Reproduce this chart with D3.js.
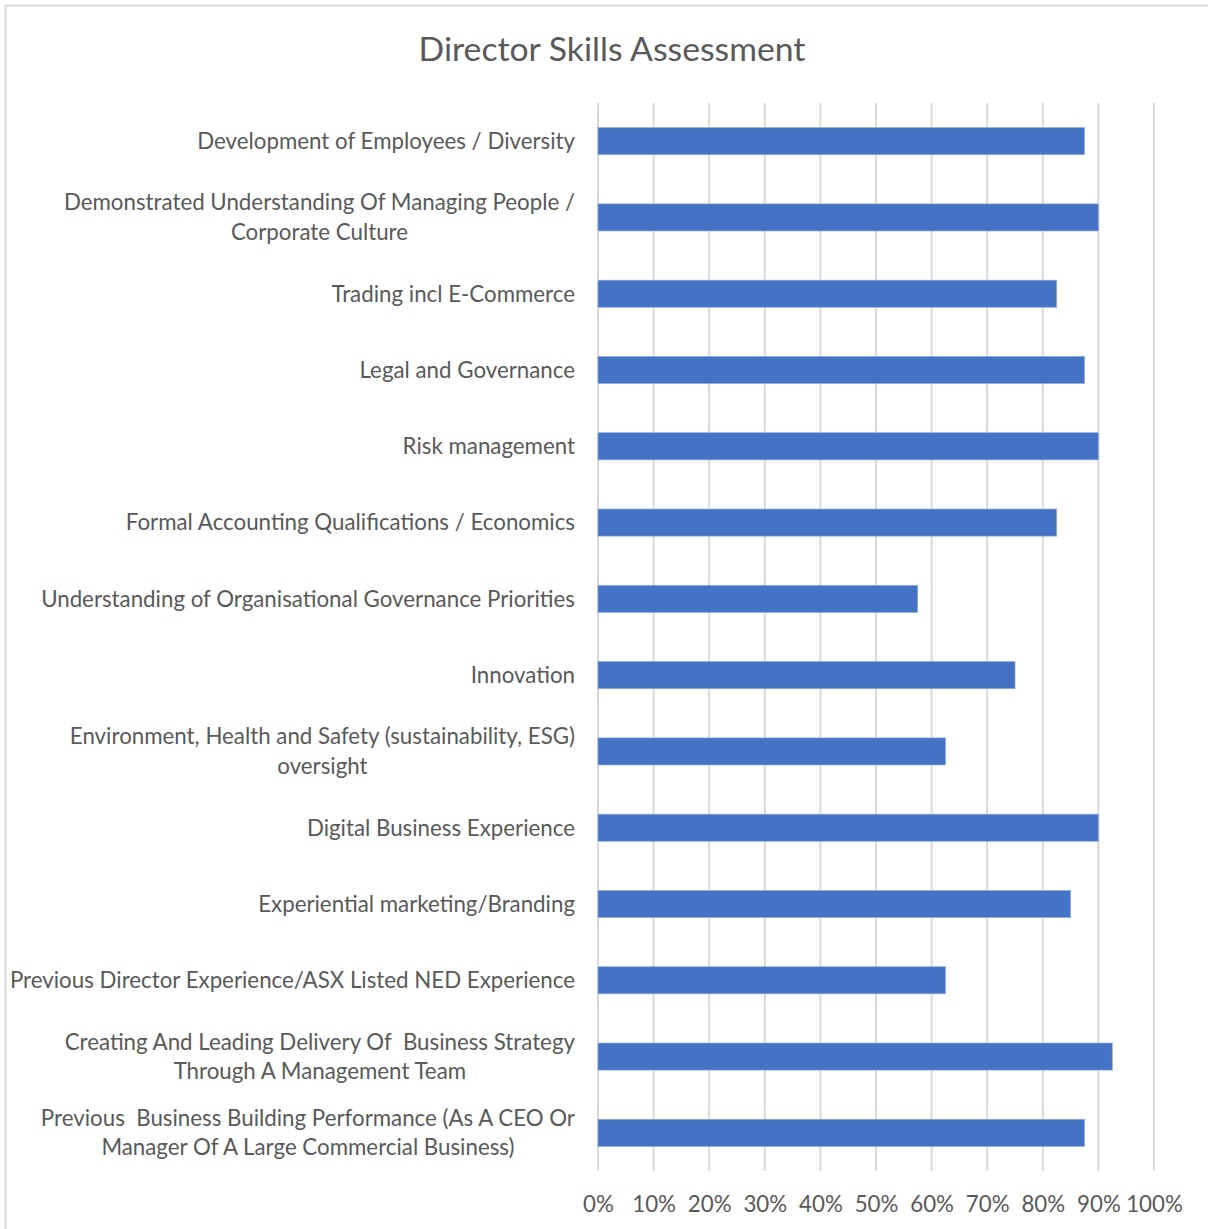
<!DOCTYPE html>
<html><head><meta charset="utf-8">
<script src="https://cdn.jsdelivr.net/npm/d3@7"></script>
<style>body{margin:0;background:#fff}svg{display:block}</style>
</head><body>
<svg id="chart" width="1208" height="1229"></svg>
<script>
const title = "Director Skills Assessment";
const categories = [
  ["Development of Employees / Diversity"],
  ["Demonstrated Understanding Of Managing People /", "Corporate Culture"],
  ["Trading incl E-Commerce"],
  ["Legal and Governance"],
  ["Risk management"],
  ["Formal Accounting Qualifications / Economics"],
  ["Understanding of Organisational Governance Priorities"],
  ["Innovation"],
  ["Environment, Health and Safety (sustainability, ESG)", "oversight"],
  ["Digital Business Experience"],
  ["Experiential marketing/Branding"],
  ["Previous Director Experience/ASX Listed NED Experience"],
  ["Creating And Leading Delivery Of  Business Strategy", "Through A Management Team"],
  ["Previous  Business Building Performance (As A CEO Or", "Manager Of A Large Commercial Business)"]
];
const values = [0.875, 0.90, 0.825, 0.875, 0.90, 0.825, 0.575, 0.75, 0.625, 0.90, 0.85, 0.625, 0.925, 0.875];
const tickValues = [0, 0.1, 0.2, 0.3, 0.4, 0.5, 0.6, 0.7, 0.8, 0.9, 1.0];

const FONT = "Lato, 'Open Sans', sans-serif";
const TXT = "#595959";
const svg = d3.select("#chart");

svg.append("rect").attr("x", 5.5).attr("y", 5.5).attr("width", 1220).attr("height", 1240)
  .attr("fill", "#fff").attr("stroke", "#d9d9d9").attr("stroke-width", 2);

// title, fitted to reference width
const tt = svg.append("text").attr("x", 612).attr("y", 61).attr("text-anchor", "middle")
  .attr("font-family", FONT).attr("font-size", 31).attr("fill", TXT).text(title);
const tw = tt.node().getComputedTextLength();
tt.attr("font-size", 31 * 387 / tw);

const x = d3.scaleLinear().domain([0, 1]).range([598, 1154]);
const idx = d3.range(categories.length);
const y = d3.scaleBand().domain(idx).range([103, 1171]).paddingInner(0.645).paddingOuter(0.3225);

// gridlines
svg.append("g").selectAll("line").data(tickValues).join("line")
  .attr("x1", d => x(d)).attr("x2", d => x(d)).attr("y1", 103).attr("y2", 1171)
  .attr("stroke", "#d9d9d9").attr("stroke-width", 2);

// bars
svg.append("g").selectAll("rect").data(values).join("rect")
  .attr("x", x(0)).attr("y", (d, i) => y(i)).attr("width", d => x(d) - x(0)).attr("height", y.bandwidth())
  .attr("fill", "#4472C4").attr("stroke", "#8faadc").attr("stroke-width", 0.7);

// category labels, font size fitted so the longest single line matches the reference width
const labelRight = 575;
const lineH = 29.5;
const lg = svg.append("g").attr("font-family", FONT).attr("font-size", 20).attr("fill", TXT);
const probe = lg.append("text").text("Understanding of Organisational Governance Priorities");
const fs = 20 * 534 / probe.node().getComputedTextLength();
probe.remove();
lg.attr("font-size", fs);

categories.forEach((lines, i) => {
  const cy = y(i) + y.bandwidth() / 2;
  const g = lg.append("g");
  const texts = lines.map((ln, k) => g.append("text")
    .attr("y", cy + (k - (lines.length - 1) / 2) * lineH)
    .attr("dy", "0.35em").attr("text-anchor", "middle").attr("xml:space", "preserve").text(ln));
  const maxW = d3.max(texts, t => t.node().getComputedTextLength());
  texts.forEach(t => t.attr("x", labelRight - maxW / 2));
});

// x tick labels
const xAxis = d3.axisBottom(x).tickValues(tickValues).tickFormat(d3.format(".0%")).tickSize(0);
const gx = svg.append("g").attr("transform", "translate(0,1193)").call(xAxis);
gx.select(".domain").remove();
gx.selectAll("text").attr("font-family", FONT).attr("font-size", fs).attr("fill", TXT).attr("dy", "0.71em");
</script>
</body></html>
